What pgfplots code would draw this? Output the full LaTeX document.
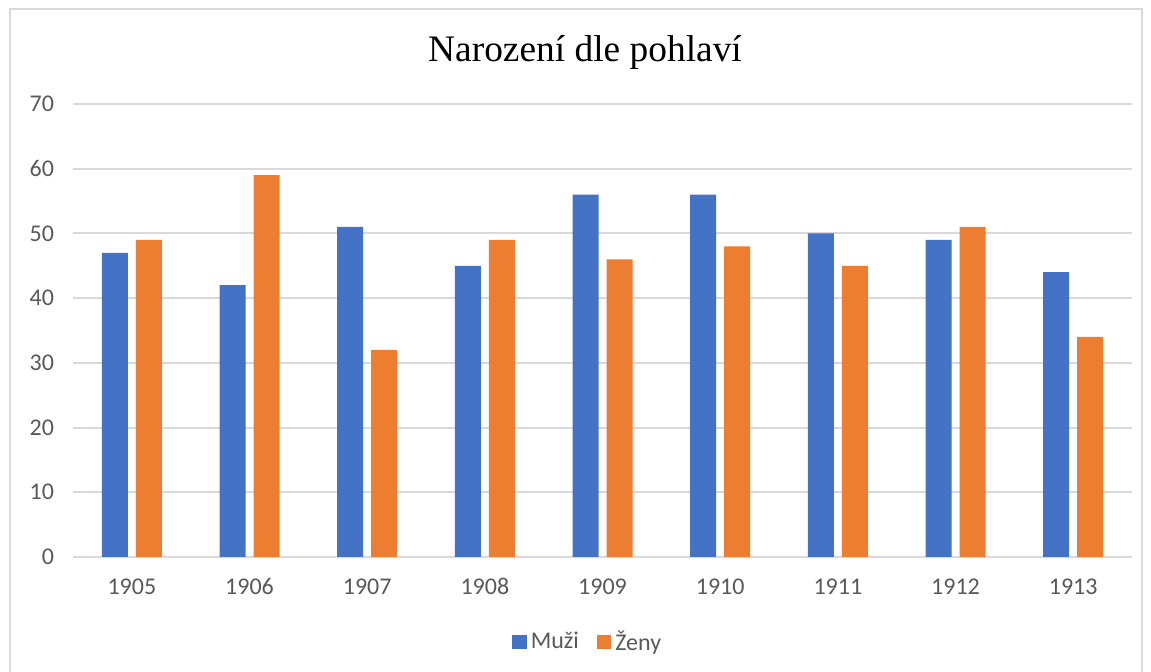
\documentclass[border=0pt]{standalone}
\usepackage{pgfplots}
\pgfplotsset{compat=1.18}
\usepackage{fontspec}
\setmainfont{Carlito}
\newfontfamily\titlefont{Liberation Serif}
\definecolor{cblue}{HTML}{4472C4}
\definecolor{corange}{HTML}{ED7D31}
\definecolor{cgrid}{HTML}{D9D9D9}
\definecolor{ctick}{HTML}{595959}
\begin{document}
\begin{tikzpicture}[x=0.5pt,y=0.5pt]
\useasboundingbox (0,0) rectangle (1151,672);
\draw[cgrid,line width=1pt] (9.5,-30) rectangle (1141.5,662.5);
\node[font=\titlefont\fontsize{18.7}{22}\selectfont,text=black] at (585,620) {Narození dle pohlaví};
\begin{axis}[
  at={(602.5pt/2,341.5pt/2)}, anchor=center,
  scale only axis, width=529.5pt, height=226.5pt,
  xmin=-0.5, xmax=8.5, ymin=0, ymax=70,
  ytick={0,10,...,70},
  xtick={0,...,8},
  xticklabels={1905,1906,1907,1908,1909,1910,1911,1912,1913},
  axis line style={draw=none},
  major tick length=0pt,
  ymajorgrids, grid style={cgrid,line width=1pt},
  axis x line*=bottom,
  x axis line style={draw=cgrid,line width=1pt},
  tick label style={font=\fontsize{12}{14}\selectfont,text=ctick},
  /pgf/number format/assume math mode=true,
  yticklabel style={xshift=-6pt},
  xticklabel style={yshift=-7pt,text depth=0pt,text height=8pt},
  ybar, bar width=13pt,
  legend style={at={(0.487,-0.188)}, anchor=center, draw=none, legend columns=2,
    font=\fontsize{12}{14}\selectfont, text=ctick,
    /tikz/every even column/.append style={column sep=7pt}},
  legend image code/.code={\fill[#1] (0pt,-3.6pt) rectangle (7.2pt,3.6pt);},
]
\addplot[fill=cblue,draw=none,bar shift=-8.5pt] coordinates {(0,47)(1,42)(2,51)(3,45)(4,56)(5,56)(6,50)(7,49)(8,44)};
\addplot[fill=corange,draw=none,bar shift=8.5pt] coordinates {(0,49)(1,59)(2,32)(3,49)(4,46)(5,48)(6,45)(7,51)(8,34)};
\legend{Muži,Ženy}
\end{axis}
\end{tikzpicture}
\end{document}
